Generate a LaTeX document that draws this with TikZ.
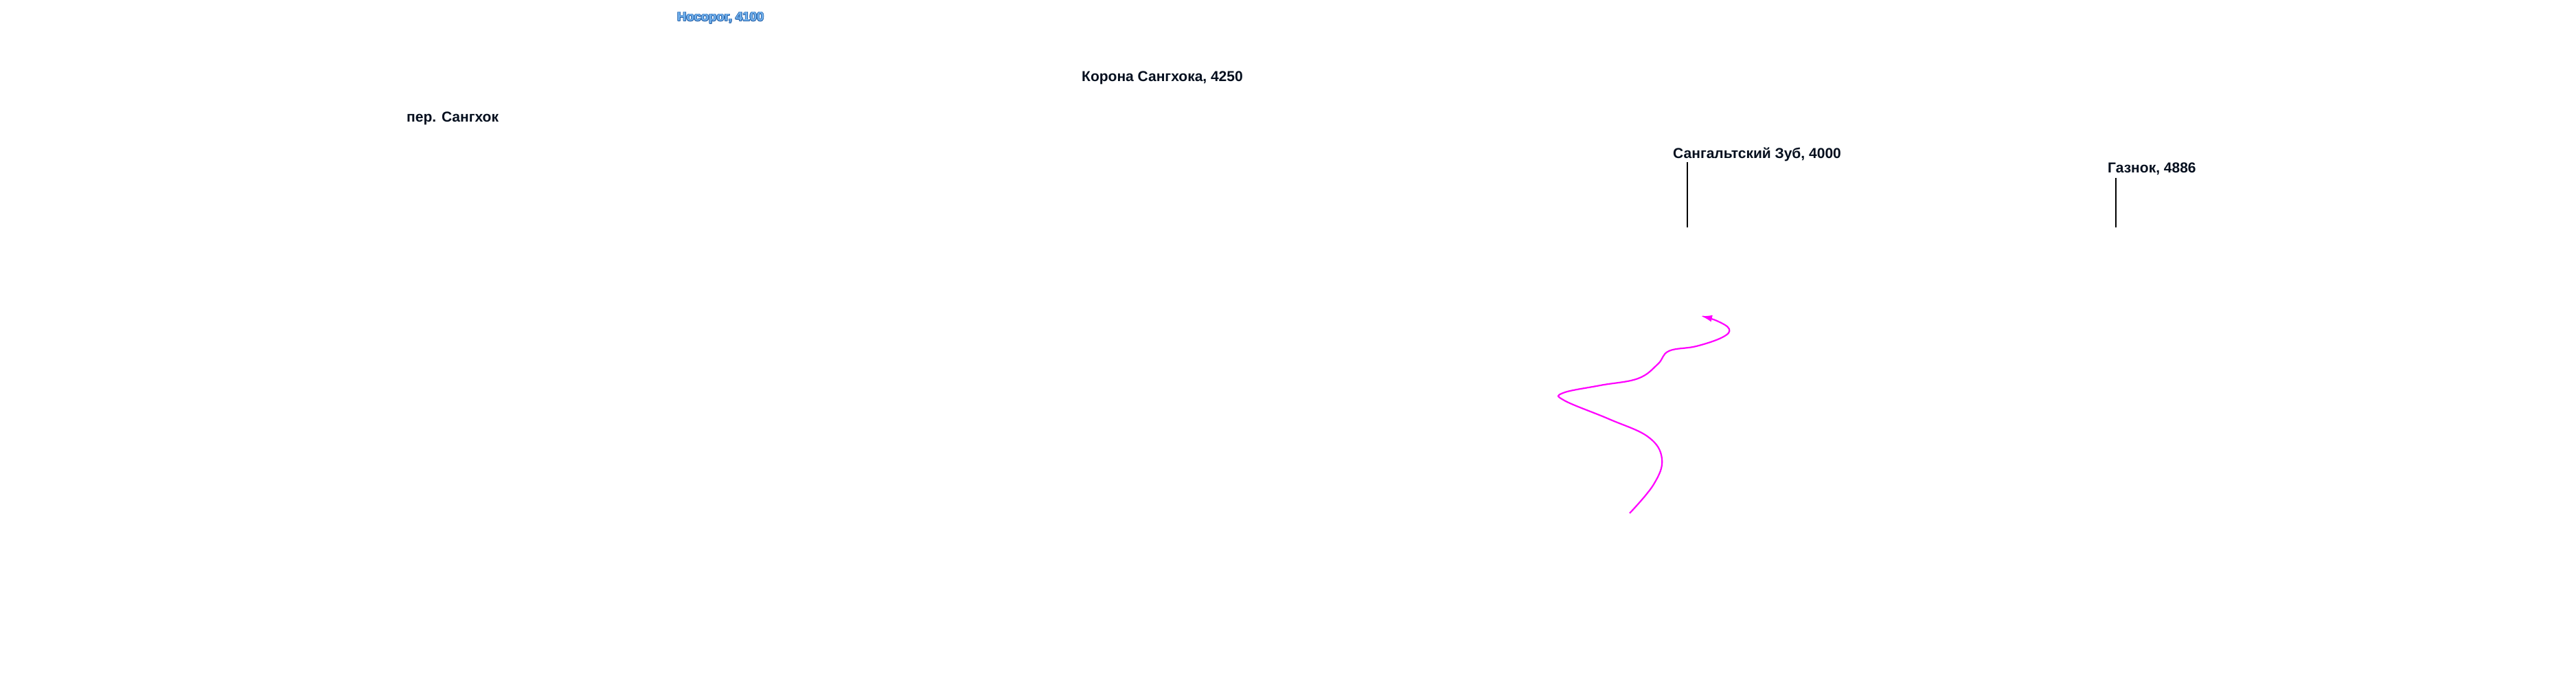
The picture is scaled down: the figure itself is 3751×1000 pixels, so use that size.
\documentclass[tikz,border=0pt]{standalone}
\usepackage{fontspec}
\setmainfont{Liberation Sans}
\usetikzlibrary{arrows.meta}
\definecolor{halofill}{RGB}{115,178,238}
\definecolor{haloedge}{RGB}{40,100,170}
\definecolor{labelink}{RGB}{5,15,30}
\definecolor{route}{RGB}{255,0,255}
\begin{document}
\begin{tikzpicture}[x=1pt,y=-1pt,
  lbl/.style={anchor=base west,inner sep=0pt,text=labelink,font=\fontsize{21}{25}\selectfont\bfseries},
  halo/.style={anchor=base west,inner sep=0pt,font=\fontsize{18.5}{22}\selectfont\bfseries},
  leader/.style={draw=black,line width=1.4pt},
  routeline/.style={draw=route,line width=2.2pt,-{Latex[length=16pt,width=10pt]}}]
\fill[white] (0,0) rectangle (3751,1000);
\useasboundingbox (0,0) rectangle (3751,1000);
% halo label
\foreach \dx/\dy in {-0.9/0,0.9/0,0/-0.9,0/0.9,-0.7/-0.7,0.7/0.7,-0.7/0.7,0.7/-0.7}
  \node[halo,text=haloedge] at (986+\dx,31+\dy) {Носорог, 4100};
\node[halo,text=halofill] (nosorog) at (986,31) {Носорог, 4100};
% labels
\node[lbl] (korona) at (1575,119) {Корона Сангхока, 4250};
\node[lbl] (pereval) at (592,178) {пер. Сангхок};
\node[lbl] (zub) at (2436,231) {Сангальтский Зуб, 4000};
\node[lbl] (gaznok) at (3069,252) {Газнок, 4886};
% leader lines
\coordinate (zubtop) at (2457,236);
\coordinate (zubfoot) at (2457,331);
\coordinate (gaztop) at (3081,259);
\coordinate (gazfoot) at (3081,331);
\draw[leader] (zubtop) -- (zubfoot);
\draw[leader] (gaztop) -- (gazfoot);
% route
\coordinate (routestart) at (2373,747);
\coordinate (routeend) at (2477,460);
\draw[routeline] plot[smooth,tension=0.65] coordinates {
 (routestart) (2408,705) (2420,668) (2400,636)
 (2343,610) (2278,583) (2276,572) (2330,561)
 (2385,551) (2414,530) (2430,511) (2470,504)
 (2508,491) (2518,479) (2500,467) (routeend)};
\end{tikzpicture}
\end{document}
